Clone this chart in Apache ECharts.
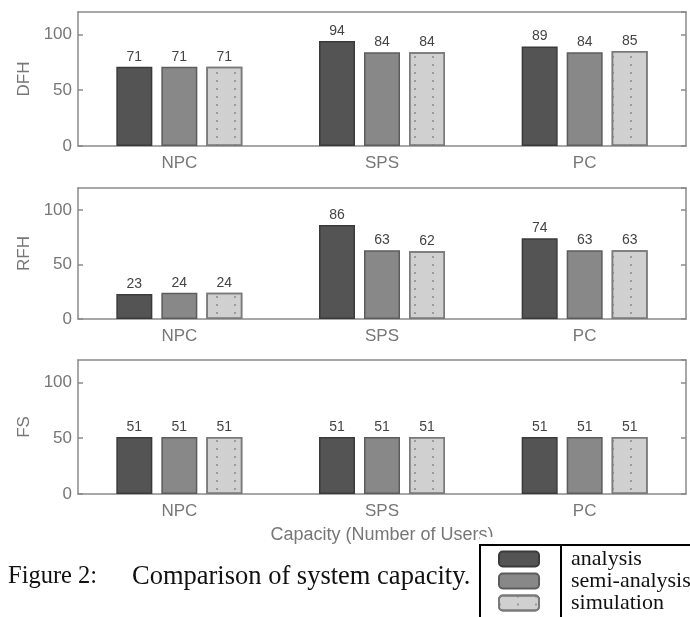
<!DOCTYPE html>
<html>
<head>
<meta charset="utf-8">
<script src="https://cdn.jsdelivr.net/npm/echarts@6/dist/echarts.min.js"></script>
<style>
  html, body { margin: 0; padding: 0; background: #fff; }
  #main { width: 690px; height: 617px; }
</style>
</head>
<body>
<div id="main"></div>
<script>
  // data
  const categories = ['NPC', 'SPS', 'PC'];
  const panelNames = ['DFH', 'RFH', 'FS'];
  const seriesNames = ['analysis', 'semi-analysis', 'simulation'];
  const dfhAnalysis = [71, 94, 89];
  const dfhSemi = [71, 84, 84];
  const dfhSim = [71, 84, 85];
  const rfhAnalysis = [23, 86, 74];
  const rfhSemi = [24, 63, 63];
  const rfhSim = [24, 62, 63];
  const fsAnalysis = [51, 51, 51];
  const fsSemi = [51, 51, 51];
  const fsSim = [51, 51, 51];
  const panelData = [
    [dfhAnalysis, dfhSemi, dfhSim],
    [rfhAnalysis, rfhSemi, rfhSim],
    [fsAnalysis, fsSemi, fsSim],
  ];

  const axisGray = '#8a8a8a';
  const labelGray = '#777';
  const sans = 'Liberation Sans, Arial, sans-serif';
  const serif = 'Liberation Serif, Times New Roman, serif';

  const barStyles = [
    { color: '#545454', borderColor: '#3a3a3a', borderWidth: 1.5 },
    { color: '#888888', borderColor: '#5c5c5c', borderWidth: 1.5 },
    {
      color: '#d0d0d0', borderColor: '#7a7a7a', borderWidth: 1.5,
      decal: {
        symbol: 'rect',
        symbolSize: 1,
        color: 'rgba(140,140,140,0.8)',
        dashArrayX: [2, 16],
        dashArrayY: [2, 6],
        rotation: 0,
      },
    },
  ];

  const grids = [
    { left: 78, right: 4, top: 12, height: 134 },
    { left: 78, right: 4, top: 188, height: 131 },
    { left: 78, right: 4, top: 360, height: 134 },
  ];

  const xAxis = [];
  const yAxis = [];
  const series = [];

  grids.forEach((g, i) => {
    // bottom category axis
    xAxis.push({
      type: 'category',
      gridIndex: i,
      data: categories,
      position: 'bottom',
      axisLine: { onZero: false, lineStyle: { color: axisGray, width: 1.5 } },
      axisTick: { show: false },
      axisLabel: { color: labelGray, fontFamily: sans, fontSize: 17, margin: 9 },
      name: i === 2 ? 'Capacity (Number of Users)' : '',
      nameLocation: 'middle',
      nameGap: 32,
      nameTextStyle: { color: labelGray, fontFamily: sans, fontSize: 18 },
    });
    // top border with inward ticks
    xAxis.push({
      type: 'category',
      gridIndex: i,
      data: categories,
      position: 'top',
      axisLine: { onZero: false, lineStyle: { color: axisGray, width: 1.5 } },
      axisTick: { inside: true, alignWithLabel: true, length: 5, lineStyle: { color: axisGray, width: 1.5 } },
      axisLabel: { show: false },
    });
    yAxis.push({
      type: 'value',
      gridIndex: i,
      min: 0,
      max: 120,
      interval: 50,
      position: 'left',
      name: panelNames[i],
      nameLocation: 'middle',
      nameGap: 45,
      nameTextStyle: { color: labelGray, fontFamily: sans, fontSize: 17 },
      axisLine: { show: true, onZero: false, lineStyle: { color: axisGray, width: 1.5 } },
      axisTick: { show: true, inside: true, length: 5, lineStyle: { color: axisGray, width: 1.5 } },
      axisLabel: { color: labelGray, fontFamily: sans, fontSize: 17, margin: 6, showMaxLabel: false },
      splitLine: { show: false },
    });
    yAxis.push({
      type: 'value',
      gridIndex: i,
      min: 0,
      max: 120,
      interval: 50,
      position: 'right',
      axisLine: { show: true, onZero: false, lineStyle: { color: axisGray, width: 1.5 } },
      axisTick: { show: true, inside: true, length: 5, lineStyle: { color: axisGray, width: 1.5 } },
      axisLabel: { show: false },
      splitLine: { show: false },
    });
    panelData[i].forEach((vals, k) => {
      series.push({
        name: seriesNames[k],
        type: 'bar',
        xAxisIndex: 2 * i,
        yAxisIndex: 2 * i,
        data: vals,
        barWidth: 36,
        barGap: '25%',
        itemStyle: barStyles[k],
        label: {
          show: true,
          position: 'top',
          distance: 3,
          color: '#444',
          fontFamily: sans,
          fontSize: 14,
        },
      });
    });
  });

  const myChart = echarts.init(document.getElementById('main'), null, { renderer: 'canvas' });
  myChart.setOption({
    animation: false,
    backgroundColor: '#fff',
    grid: grids,
    xAxis: xAxis,
    yAxis: yAxis,
    series: series,
    legend: {
      data: seriesNames,
      orient: 'vertical',
      left: 498,
      top: 548,
      padding: 0,
      itemGap: 0,
      itemWidth: 40,
      itemHeight: 15,
      z: 60,
      textStyle: {
        color: '#111',
        fontFamily: serif,
        fontSize: 22,
        lineHeight: 16,
        padding: [6, 0, 0, 27],
      },
    },
    graphic: [
      {
        type: 'rect',
        z: 50,
        shape: { x: 480, y: 537, width: 220, height: 8 },
        style: { fill: '#fff' },
      },
      {
        type: 'rect',
        z: 50,
        shape: { x: 480, y: 545, width: 230, height: 100 },
        style: { fill: '#fff', stroke: '#000', lineWidth: 2 },
      },
      {
        type: 'line',
        z: 51,
        shape: { x1: 561, y1: 545, x2: 561, y2: 617 },
        style: { stroke: '#000', lineWidth: 2 },
      },
      {
        type: 'text',
        z: 50,
        x: 8,
        y: 577,
        style: { text: 'Figure 2:', fill: '#111', font: '24.5px ' + serif, verticalAlign: 'middle' },
      },
      {
        type: 'text',
        z: 50,
        x: 132,
        y: 577,
        style: { text: 'Comparison of system capacity.', fill: '#111', font: '26.5px ' + serif, verticalAlign: 'middle' },
      },
    ],
  });
</script>
</body>
</html>
